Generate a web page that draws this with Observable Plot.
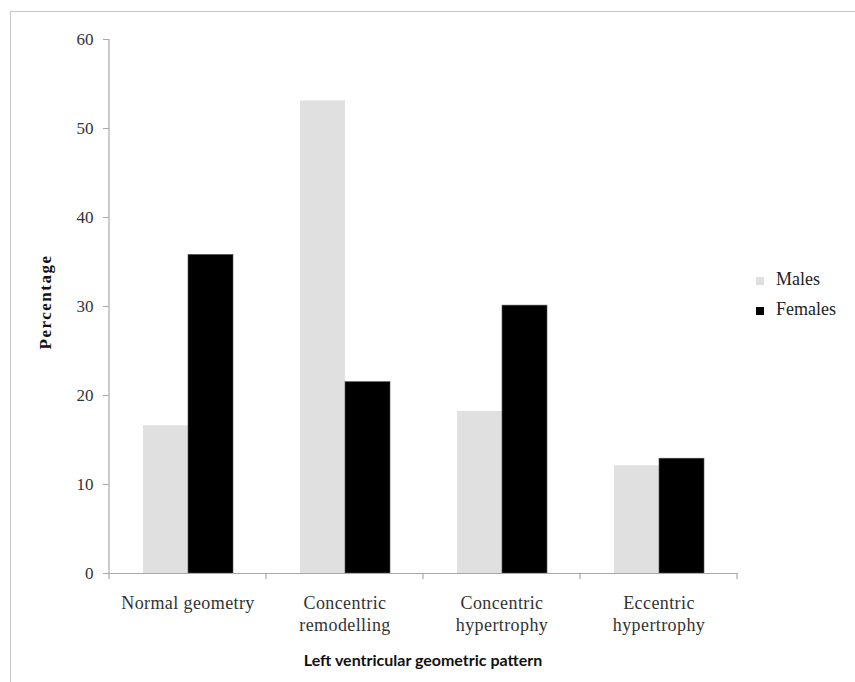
<!DOCTYPE html>
<html><head><meta charset="utf-8">
<script src="https://cdn.jsdelivr.net/npm/d3@7"></script>
<script src="https://cdn.jsdelivr.net/npm/@observablehq/plot@0.6"></script>
<style>
body{margin:0;background:#fff;}
#wrap{position:relative;width:855px;height:682px;overflow:hidden;background:#fff;}
#border{position:absolute;left:10px;top:11px;right:-4px;bottom:-4px;border-left:1.5px solid #c6c6c6;border-top:1.5px solid #c6c6c6;}
#chart{position:absolute;left:0;top:0;}
</style></head>
<body><div id="wrap"><div id="border"></div><div id="chart"></div></div>
<script>
const categories = ["Normal geometry","Concentric remodelling","Concentric hypertrophy","Eccentric hypertrophy"];
const categoryLabels = ["Normal geometry","Concentric\nremodelling","Concentric\nhypertrophy","Eccentric\nhypertrophy"];
const series = ["Males","Females"];
const males = [16.6, 53.1, 18.2, 12.1];
const females = [35.8, 21.5, 30.1, 12.9];
const yTicks = [0,10,20,30,40,50,60];
const colors = ["#e0e0e0","#000000"];
const yTitle = "Percentage";
const xTitle = "Left ventricular geometric pattern";

const data = categories.flatMap((c,i)=>[
  {category:c, sex:"Males", value:males[i]},
  {category:c, sex:"Females", value:females[i]}
]);

const serif = "'Liberation Serif', serif";
const chart = Plot.plot({
  width:855, height:682,
  marginLeft:108, marginRight:117, marginTop:39, marginBottom:109,
  style:{fontFamily:serif, background:"transparent", overflow:"visible", color:"#333"},
  fx:{domain:categories, padding:0, label:null, axis:null},
  x:{domain:series, paddingInner:0, paddingOuter:0.73, axis:null},
  y:{domain:[0,60], label:null, axis:null},
  color:{domain:series, range:colors},
  marks:[
    Plot.barY(data,{fx:"category", x:"sex", y:"value", fill:"sex", stroke:d=>d.sex==="Females"?"#555":"none", strokeWidth:0.6}),
    Plot.ruleY([0],{stroke:"#a8a8a8", strokeWidth:1.2}),
    Plot.axisY({ticks:yTicks, tickSize:6, tickPadding:10, stroke:"#a8a8a8", fill:"#333", fontSize:17, label:null}),
    Plot.axisFx({anchor:"bottom", tickSize:0, tickPadding:20, fontSize:18, lineHeight:1.22, label:null, fill:"#333",
      tickFormat:c=>categoryLabels[categories.indexOf(c)]})
  ]
});
document.getElementById("chart").appendChild(chart);

const fx = chart.scale("fx"), y = chart.scale("y");
const svg = d3.select(chart);
svg.selectAll('g[aria-label="fx-axis tick label"] text').attr("letter-spacing","0.4px");
const edges = categories.map(c=>fx.apply(c)).concat([fx.apply(categories[categories.length-1]) + fx.bandwidth]);
const g = svg.append("g").attr("stroke","#a8a8a8").attr("stroke-width",1.2);
g.selectAll("line.tk").data(edges).join("line").attr("class","tk")
  .attr("x1",d=>d).attr("x2",d=>d).attr("y1",y.apply(0)).attr("y2",y.apply(0)+6);
g.append("line").attr("x1",edges[0]).attr("x2",edges[0]).attr("y1",y.apply(0)).attr("y2",y.apply(60));

svg.append("text").text(yTitle)
  .attr("transform",`translate(47,${(y.apply(0)+y.apply(60))/2 - 4}) rotate(-90)`)
  .attr("text-anchor","middle").attr("dominant-baseline","middle")
  .attr("font-family",serif).attr("font-weight","bold")
  .attr("font-size",17).attr("letter-spacing","1.5px").attr("fill","#111");
svg.append("text").text(xTitle)
  .attr("x",(edges[0]+edges[edges.length-1])/2).attr("y",662)
  .attr("text-anchor","middle").attr("dominant-baseline","middle")
  .attr("font-family","Lato, sans-serif").attr("font-weight","bold")
  .attr("font-size",16).attr("fill","#111");

// legend (to the right of the plot area)
const lx = edges[edges.length-1] + 19;
const ly = (y.apply(0)+y.apply(60))/2 - 25;
const lg = svg.append("g").attr("font-family",serif).attr("font-size",18).attr("fill","#222").attr("text-anchor","start");
series.forEach((s,i)=>{
  const row = lg.append("g").attr("transform",`translate(${lx},${ly + i*30})`);
  row.append("rect").attr("x",0).attr("y",-4).attr("width",8).attr("height",8).attr("fill",colors[i]);
  row.append("text").attr("x",20).attr("y",0).attr("text-anchor","start").attr("dominant-baseline","middle").text(s);
});
</script>
</body></html>
